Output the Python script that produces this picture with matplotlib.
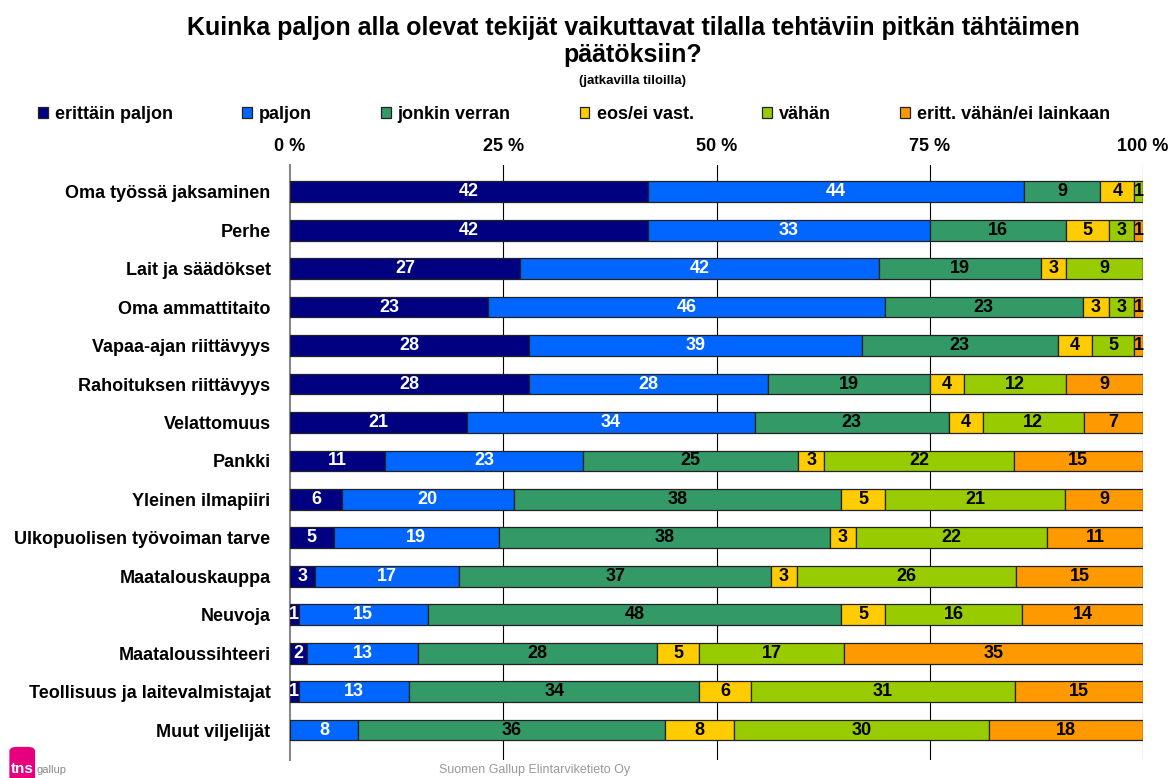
import numpy as np
import matplotlib.pyplot as plt
from matplotlib.patches import FancyBboxPatch

plt.rcParams['font.family'] = ['Liberation Sans', 'DejaVu Sans']

# Data
CATEGORIES = ["Oma työssä jaksaminen", "Perhe", "Lait ja säädökset",
              "Oma ammattitaito", "Vapaa-ajan riittävyys",
              "Rahoituksen riittävyys", "Velattomuus", "Pankki",
              "Yleinen ilmapiiri", "Ulkopuolisen työvoiman tarve",
              "Maatalouskauppa", "Neuvoja", "Maataloussihteeri",
              "Teollisuus ja laitevalmistajat", "Muut viljelijät"]
SERIES = ["erittäin paljon", "paljon", "jonkin verran", "eos/ei vast.",
          "vähän", "eritt. vähän/ei lainkaan"]
ERITTAIN_PALJON = [42, 42, 27, 23, 28, 28, 21, 11, 6, 5, 3, 1, 2, 1, 0]
PALJON = [44, 33, 42, 46, 39, 28, 34, 23, 20, 19, 17, 15, 13, 13, 8]
JONKIN_VERRAN = [9, 16, 19, 23, 23, 19, 23, 25, 38, 38, 37, 48, 28, 34, 36]
EOS = [4, 5, 3, 3, 4, 4, 4, 3, 5, 3, 3, 5, 5, 6, 8]
VAHAN = [1, 3, 9, 3, 5, 12, 12, 22, 21, 22, 26, 16, 17, 31, 30]
ERITT_VAHAN = [0, 1, 0, 1, 1, 9, 7, 15, 9, 11, 15, 14, 35, 15, 18]
COLORS = ["#000080", "#0066FF", "#339966", "#FFCC00", "#99CC00", "#FF9900"]
TEXT_COLORS = ["white", "white", "black", "black", "black", "black"]
TICKS = [0, 25, 50, 75, 100]


def plot_chart():
    data = np.array([ERITTAIN_PALJON, PALJON, JONKIN_VERRAN, EOS, VAHAN,
                     ERITT_VAHAN], dtype=float)
    shares = data / data.sum(axis=0) * 100  # 100 % stacked bars

    fig = plt.figure(figsize=(11.7, 7.78), dpi=100)
    ax = fig.add_axes([0.2479, 0.0231, 0.729, 0.765])

    y = np.arange(len(CATEGORIES))
    left = np.zeros(len(CATEGORIES))
    for i, name in enumerate(SERIES):
        ax.barh(y, shares[i], left=left, height=0.54, color=COLORS[i],
                edgecolor="#222222", linewidth=0.9, label=name, zorder=3)
        for j in range(len(CATEGORIES)):
            if data[i, j] > 0:
                ax.text(left[j] + shares[i, j] / 2, y[j], "%d" % data[i, j],
                        ha="center", va="center", color=TEXT_COLORS[i],
                        fontsize=13, fontweight="bold", zorder=4)
        left += shares[i]

    ax.set_xlim(0, 100)
    ax.set_ylim(len(CATEGORIES) - 1 + 0.78, -0.7)
    ax.set_yticks(y)
    ax.set_yticklabels(CATEGORIES, fontsize=13, fontweight="bold")
    ax.tick_params(axis="y", length=0, pad=14)

    ax.xaxis.tick_top()
    ax.set_xticks(TICKS)
    ax.set_xticklabels(["%d %%" % t for t in TICKS], fontsize=13,
                       fontweight="bold")
    ax.tick_params(axis="x", length=0, pad=7)
    for t in TICKS[1:]:
        ax.axvline(t, color="#000000", linewidth=0.8, zorder=1)

    for s in ["top", "right", "bottom"]:
        ax.spines[s].set_visible(False)
    ax.spines["left"].set_color("#888888")
    ax.spines["left"].set_linewidth(1.5)

    # Title
    fig.text(0.541, 0.947, "Kuinka paljon alla olevat tekijät vaikuttavat "
             "tilalla tehtäviin pitkän tähtäimen\npäätöksiin?",
             ha="center", va="center", fontsize=18, fontweight="bold",
             linespacing=1.18)
    fig.text(0.541, 0.896, "(jatkavilla tiloilla)", ha="center",
             va="center", fontsize=9.5, fontweight="bold")

    # Legend
    handles, labels = ax.get_legend_handles_labels()
    leg = fig.legend(handles, labels, loc="center left",
                     bbox_to_anchor=(0.0188, 0.853), ncol=6, frameon=False,
                     fontsize=13, handlelength=0.55, handleheight=0.6,
                     handletextpad=0.39, columnspacing=3.81)
    for txt in leg.get_texts():
        txt.set_fontweight("bold")

    # Footer and logo
    fig.text(0.457, 0.002, "Suomen Gallup Elintarviketieto Oy",
             ha="center", va="bottom", fontsize=9, color="#999999")
    fig.patches.append(FancyBboxPatch((0.008, -0.01), 0.022, 0.05,
                                      boxstyle="round,pad=0,rounding_size=0.006",
                                      transform=fig.transFigure,
                                      facecolor="#E6007E", edgecolor="none"))
    fig.text(0.009, 0.002, "tns", ha="left", va="bottom", fontsize=11,
             fontweight="bold", color="white")
    fig.text(0.031, 0.004, "gallup", ha="left", va="bottom", fontsize=8,
             color="#888888")

    fig.savefig("out.png", dpi=100)


if __name__ == '__main__':
    plot_chart()
